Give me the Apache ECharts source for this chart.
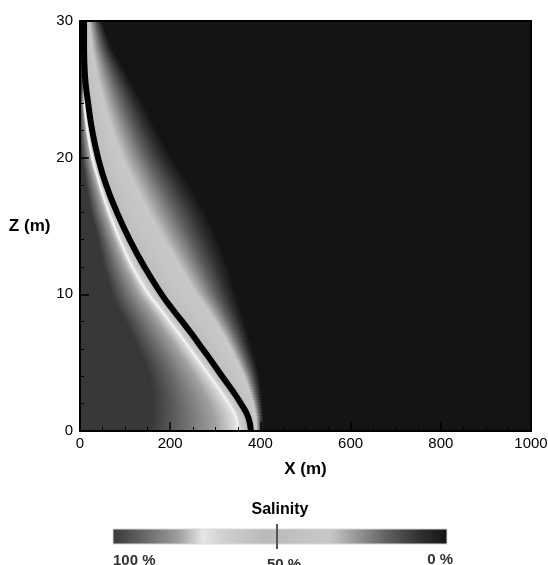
<!DOCTYPE html>
<html><head><meta charset="utf-8">
<script src="https://cdn.jsdelivr.net/npm/echarts@6/dist/echarts.min.js"></script>
<style>html,body{margin:0;padding:0;background:#fff}#c{width:548px;height:565px}</style>
</head><body><div id="c"></div>
<script>
// ---- data ----
const zLevels     = [0,1,2,3,4,5,6,7,8,9,10,12,14,16,18,20,22,24,26,28,30];
// x (m) of iso-salinity contours at each z level
const saltEdgeX   = [155,160,162,160,155,144,129,115,100,84,70,53,40,24,13,4,0,0,6,6,6];          // 100 %
const whiteLineX  = [350,346,330,310,288,266,244,222,199,176,152,116,88,64,44,27,16,9,8,7,7];       // ~73 %
const interfaceX  = [379,373,357,337,315,294,272,250,227,203,181,143,110,82,58,40,27,18,11,9,9];    // 50 %
const plateauX    = [392,390,384,375,364,350,335,319,300,280,258,222,186,152,122,94,72,53,38,27,20]; // ~35 %
const freshEdgeX  = [406,406,404,401,397,390,381,373,364,355,346,328,306,279,244,204,171,140,106,71,49]; // 0 %
const contourLevels = [100, 73, 50, 35, 0];
// colour scale (salinity % -> grey)
const cmapLevels = [100, 90, 80, 73, 67, 55, 50, 42, 35, 28, 18, 8, 0];
const cmapColors = ['#383838','#6a6a6a','#a0a0a0','#e6e6e6','#d0d0d0','#bababa','#bcbcbc','#c4c4c4','#c8c8c8','#9c9c9c','#606060','#303030','#141414'];
const xTicks = [0, 200, 400, 600, 800, 1000];
const zTicks = [0, 10, 20, 30];
const barLabels = ['100 %', '50 %', '0 %'];
const whiteVisibleMaxZ = 24;

const FONT = "'Liberation Sans', Arial, Helvetica, sans-serif";
const contours = [saltEdgeX, whiteLineX, interfaceX, plateauX, freshEdgeX];

function stopsFor(t, L) {
  const stops = [];
  for (let j = 0; j < cmapLevels.length; j++) {
    const s = cmapLevels[j];
    let k = 0;
    while (k < contourLevels.length - 2 && s < contourLevels[k + 1]) k++;
    const s0 = contourLevels[k], s1 = contourLevels[k + 1];
    const f = (s0 - s) / (s0 - s1);
    const pos = t[k] + (t[k + 1] - t[k]) * f;
    let off = 0.5 + pos / (2 * L);
    off = Math.max(0, Math.min(1, off));
    if (stops.length && off < stops[stops.length - 1].offset) off = stops[stops.length - 1].offset;
    stops.push({ offset: off, color: cmapColors[j] });
  }
  return stops;
}

function renderStrip(params, api) {
  const i = api.value(2);
  const xl = api.coord([xTicks[0], 0])[0], xr = api.coord([xTicks[xTicks.length - 1], 0])[0];
  const yA = api.coord([0, zLevels[i]])[1], yB = api.coord([0, zLevels[i + 1]])[1];
  const pA = contours.map(c => api.coord([c[i], zLevels[i]])[0]);
  const pB = contours.map(c => api.coord([c[i + 1], zLevels[i + 1]])[0]);
  const h = yA - yB;
  const n = Math.max(1, Math.ceil(h / 3));
  const ddx = pB[2] - pA[2], ddy = yB - yA;
  const len = Math.hypot(ddx, ddy) || 1;
  const nx = -ddy / len, ny = ddx / len;
  const L = 900;
  const children = [];
  for (let m = 0; m < n; m++) {
    const f0 = m / n, f1 = (m + 1) / n, fm = (m + 0.5) / n;
    const y0 = yA - h * f0, y1 = yA - h * f1, ym = yA - h * fm;
    const xs = pA.map((a, k) => a + (pB[k] - a) * fm);
    const ox = xs[2], oy = ym;
    const t = xs.map(x => (x - ox) * nx);
    for (let k = 1; k < t.length; k++) if (t[k] < t[k - 1] + 0.01) t[k] = t[k - 1] + 0.01;
    const grad = new echarts.graphic.LinearGradient(ox - nx * L, oy - ny * L, ox + nx * L, oy + ny * L, stopsFor(t, L), true);
    children.push({
      type: 'rect',
      shape: { x: xl, y: y1 - 0.5, width: xr - xl, height: (y0 - y1) + 1 },
      style: { fill: grad }
    });
  }
  return { type: 'group', children: children };
}

const chart = echarts.init(document.getElementById('c'), null, { renderer: 'canvas' });
const frameLine = { show: true, onZero: false, lineStyle: { color: '#000', width: 2 } };
chart.setOption({
  animation: false,
  backgroundColor: '#ffffff',
  grid: { left: 80, right: 17, top: 21, bottom: 134, containLabel: false, outerBoundsMode: 'none' },
  xAxis: [{
    type: 'value', min: xTicks[0], max: xTicks[xTicks.length - 1], interval: xTicks[1] - xTicks[0],
    position: 'bottom', z: 10,
    name: 'X (m)', nameLocation: 'middle', nameGap: 30,
    nameTextStyle: { fontWeight: 'bold', fontSize: 17, color: '#000', fontFamily: FONT },
    axisLine: frameLine,
    axisTick: { show: true, inside: true, length: 9, lineStyle: { color: '#000', width: 1.5 } },
    minorTick: { show: true, splitNumber: 4, length: 4, lineStyle: { color: '#000', width: 1 } },
    axisLabel: { fontSize: 15, color: '#000', margin: 5, fontFamily: FONT, formatter: v => String(v) },
    splitLine: { show: false }
  }, {
    type: 'value', min: xTicks[0], max: xTicks[xTicks.length - 1], position: 'top', z: 10,
    axisLine: frameLine, axisTick: { show: false }, axisLabel: { show: false }, splitLine: { show: false }
  }],
  yAxis: [{
    type: 'value', min: zTicks[0], max: zTicks[zTicks.length - 1], interval: zTicks[1] - zTicks[0],
    position: 'left', z: 10,
    name: 'Z (m)', nameLocation: 'middle', nameGap: 28, nameRotate: 0,
    nameTextStyle: { fontWeight: 'bold', fontSize: 17, color: '#000', fontFamily: FONT },
    axisLine: frameLine,
    axisTick: { show: true, inside: true, length: 9, lineStyle: { color: '#000', width: 1.5 } },
    minorTick: { show: true, splitNumber: 5, length: 4, lineStyle: { color: '#000', width: 1 } },
    axisLabel: { fontSize: 15, color: '#000', margin: 7, fontFamily: FONT, formatter: v => String(v) },
    splitLine: { show: false }
  }, {
    type: 'value', min: zTicks[0], max: zTicks[zTicks.length - 1], position: 'right', z: 10,
    axisLine: frameLine, axisTick: { show: false }, axisLabel: { show: false }, splitLine: { show: false }
  }],
  series: [{
    type: 'custom', name: 'salinity', clip: true, z: 1,
    encode: { x: 0, y: 1 },
    renderItem: renderStrip,
    data: zLevels.slice(0, -1).map((z, i) => [interfaceX[i], z, i])
  }, {
    type: 'line', name: 'white', clip: true, z: 3, symbol: 'none', smooth: 0.5,
    lineStyle: { color: '#f2f2f2', width: 2 },
    data: zLevels.map((z, i) => [whiteLineX[i], z]).filter(p => p[1] <= whiteVisibleMaxZ)
  }, {
    type: 'line', name: 'interface', clip: true, z: 4, symbol: 'none', smooth: 0.5,
    lineStyle: { color: '#000', width: 6 },
    data: zLevels.map((z, i) => [interfaceX[i], z])
  }],
  graphic: [
    { type: 'text', x: 280, y: 510, style: { text: 'Salinity', font: 'bold 16px ' + FONT, fill: '#000', textAlign: 'center', textVerticalAlign: 'middle' } },
    { type: 'rect', shape: { x: 113, y: 529, width: 334, height: 15 },
      style: { fill: new echarts.graphic.LinearGradient(0, 0, 1, 0, cmapLevels.map((s, j) => ({ offset: (100 - s) / 100, color: cmapColors[j] }))), stroke: '#d8d8d8', lineWidth: 1 } },
    { type: 'line', shape: { x1: 277, y1: 524, x2: 277, y2: 549 }, style: { stroke: '#555', lineWidth: 2 } },
    { type: 'text', x: 113, y: 553, style: { text: barLabels[0], font: 'bold 15px ' + FONT, fill: '#333', textAlign: 'left', textVerticalAlign: 'top' } },
    { type: 'text', x: 267, y: 557, style: { text: barLabels[1], font: 'bold 15px ' + FONT, fill: '#333', textAlign: 'left', textVerticalAlign: 'top' } },
    { type: 'text', x: 453, y: 552, style: { text: barLabels[2], font: 'bold 15px ' + FONT, fill: '#333', textAlign: 'right', textVerticalAlign: 'top' } }
  ]
});
</script></body></html>
